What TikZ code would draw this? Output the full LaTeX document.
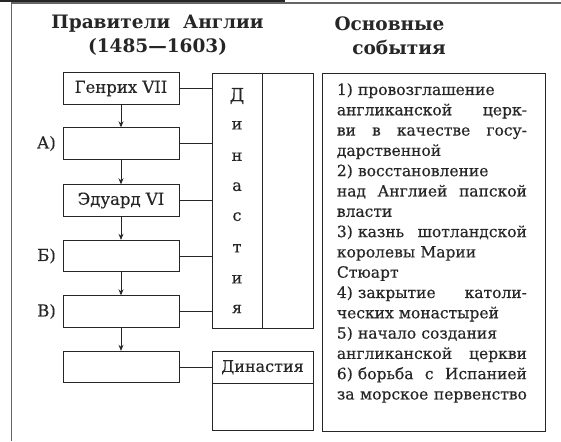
\documentclass[tikz,border=0pt]{standalone}
\usepackage{fontspec}
\setmainfont{DejaVu Serif}
\newfontface\txtface{DejaVu Serif}[FakeBold=0.35]
\usetikzlibrary{arrows.meta}
\definecolor{ink}{HTML}{262626}
\definecolor{framec}{HTML}{666666}
\newcommand{\jl}[1]{\leavevmode\hbox to 190pt{#1}}
\begin{document}
\begin{tikzpicture}[x=1pt,y=-1pt,
  rulerbox/.style={draw=ink, line width=0.9pt, minimum width=116pt, minimum height=31.5pt, inner sep=0pt, font=\txtface\fontsize{16.5}{18}\selectfont, text=ink},
  conn/.style={draw=ink, line width=0.8pt},
  arr/.style={conn, -{Stealth[length=6pt,width=5pt]}},
  lab/.style={font=\txtface\fontsize{16.5}{18}\selectfont, text=ink, anchor=east, inner sep=0pt},
  letter/.style={font=\txtface\fontsize{16}{18}\selectfont, text=ink, inner sep=0pt},
  head/.style={font=\bfseries\fontsize{18.5}{22}\selectfont, text=ink, inner sep=0pt}]
\useasboundingbox (0,0) rectangle (561,441);
\fill[white] (0,0) rectangle (561,441);
% frame
\fill[ink] (0,0) rectangle (285,1.6);
\draw[framec, line width=1.4pt] (11.5,441) -- (11.5,3.2) -- (561,3.2);
% headers
\node[head] (h1) at (157.5,23.5) {Правители\ \ Англии};
\node[head] (h2) at (157.5,47) {(1485—1603)};
\node[head] (h3) at (389.5,23.5) {Основные};
\node[head] (h4) at (399,47) {события};
% ruler boxes
\node[rulerbox] (b1) at (121,88.5) {Генрих VII};
\node[rulerbox] (b2) at (121,143.5) {};
\node[rulerbox] (b3) at (121,200.5) {Эдуард VI};
\node[rulerbox] (b4) at (121,256) {};
\node[rulerbox] (b5) at (121,311.5) {};
\node[rulerbox] (b6) at (121,367) {};
\node[lab] (la) at (56,143.5) {А)};
\node[lab] (lb) at (56,256) {Б)};
\node[lab] (lc) at (56,311.5) {В)};
\draw[arr] (b1) -- (b2);
\draw[arr] (b2) -- (b3);
\draw[arr] (b3) -- (b4);
\draw[arr] (b4) -- (b5);
\draw[arr] (b5) -- (b6);
% dynasty column
\node[draw=ink, line width=0.9pt, minimum width=101pt, minimum height=255pt, inner sep=0pt] (dyn) at (262.5,200.5) {};
\draw[conn] (dyn.north) -- (dyn.south);
\foreach \b in {b1,b2,b3,b4,b5} \draw[conn] (\b.east) -- (\b.east -| dyn.west);
\node[letter, font=\txtface\fontsize{18}{20}\selectfont] (d1) at (237,96) {Д};
\node[letter] (d2) at (237,125.3) {и};
\node[letter] (d3) at (237,156.7) {н};
\node[letter] (d4) at (237,186.7) {а};
\node[letter] (d5) at (237,216.7) {с};
\node[letter] (d6) at (237,248.3) {т};
\node[letter] (d7) at (237,279.3) {и};
\node[letter] (d8) at (237,309) {я};
% bottom dynasty box
\node[draw=ink, line width=0.9pt, minimum width=101pt, minimum height=79.4pt, inner sep=0pt] (dyn2) at (262.5,391) {};
\coordinate (dv) at (262.5,383.3);
\draw[conn] (dv -| dyn2.west) -- (dv -| dyn2.east);
\node[letter] (dt) at (262.5,367.3) {Династия};
\draw[conn] (b6.east) -- (b6.east -| dyn2.west);
% events
\node[draw=ink, line width=0.9pt, minimum width=223pt, minimum height=358pt, inner sep=0pt] (ev) at (433.5,252) {};
\node[text=ink, text width=190pt, align=left, anchor=north west, inner sep=0pt,
  font=\txtface\fontsize{15.5}{20.3}\selectfont] (evt) at (336.7,83) {%
1) провозглашение\\
\jl{англиканской\hfill церк-}\\
\jl{ви\hfill в\hfill качестве\hfill госу-}\\
дарственной\\
2) восстановление\\
\jl{над\hfill Англией\hfill папской}\\
власти\\
\jl{3)\ казнь\hfill шотландской}\\
королевы Марии\\
Стюарт\\
\jl{4)\ закрытие\hfill католи-}\\
ческих монастырей\\
5) начало создания\\
\jl{англиканской\hfill церкви}\\
\jl{6)\ борьба\hfill с\hfill Испанией}\\
\jl{за\hfill морское\hfill первенство}};
\end{tikzpicture}
\end{document}
